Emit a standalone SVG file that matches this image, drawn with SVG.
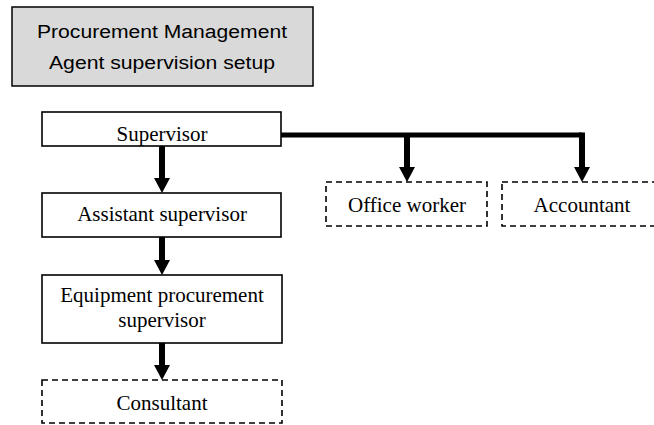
<svg xmlns="http://www.w3.org/2000/svg" xmlns:xlink="http://www.w3.org/1999/xlink" width="654" height="425" viewBox="0 0 654 425">
  <style>
    .title { fill: #d9d9d9; stroke: #000; stroke-width: 1.5; }
    .solid { fill: #fff; stroke: #000; stroke-width: 1.6; }
    .dashed { fill: #fff; stroke: #000; stroke-width: 1.6; stroke-dasharray: 6 4; }
    .sans { font-family: "Liberation Sans", Arial, sans-serif; font-size: 18px; fill: #000; text-anchor: middle; }
    .serif { font-family: "Liberation Serif", "Times New Roman", serif; font-size: 21px; fill: #000; text-anchor: middle; }
    .shaft { stroke: #000; stroke-width: 6; fill: none; }
    .bus { stroke: #000; stroke-width: 5; fill: none; }
  </style>
  <defs>
    <path id="ah" d="M-8,-15 L8,-15 L0,0 Z" fill="#000"/>
  </defs>
  <rect width="654" height="425" fill="#fff"/>

  <g id="title">
    <rect class="title" x="12" y="7" width="301" height="79"/>
    <text class="sans" x="162" y="38" textLength="250" lengthAdjust="spacingAndGlyphs">Procurement Management</text>
    <text class="sans" x="162" y="69" textLength="226" lengthAdjust="spacingAndGlyphs">Agent supervision setup</text>
  </g>

  <g id="connectors">
    <line class="shaft" x1="162" y1="146" x2="162" y2="179"/>
    <use xlink:href="#ah" x="162" y="193"/>
    <line class="shaft" x1="162" y1="237" x2="162" y2="261"/>
    <use xlink:href="#ah" x="162" y="275"/>
    <line class="shaft" x1="162" y1="343" x2="162" y2="365"/>
    <use xlink:href="#ah" x="162" y="380"/>
    <polyline class="bus" points="281,135 582,135"/>
    <line class="shaft" x1="407" y1="133" x2="407" y2="168"/>
    <use xlink:href="#ah" x="407" y="182"/>
    <line class="shaft" x1="582" y1="132.5" x2="582" y2="168"/>
    <use xlink:href="#ah" x="582" y="182"/>
  </g>

  <g id="supervisor">
    <rect class="solid" x="42" y="112" width="239" height="34"/>
    <text class="serif" x="162" y="141">Supervisor</text>
  </g>
  <g id="assistant">
    <rect class="solid" x="42" y="193" width="239" height="44"/>
    <text class="serif" x="162" y="221">Assistant supervisor</text>
  </g>
  <g id="equipment">
    <rect class="solid" x="42" y="275" width="240" height="68"/>
    <text class="serif" x="162" y="302">Equipment procurement</text>
    <text class="serif" x="162" y="327">supervisor</text>
  </g>
  <g id="consultant">
    <rect class="dashed" x="42" y="380" width="240" height="43"/>
    <text class="serif" x="162" y="410">Consultant</text>
  </g>
  <g id="office">
    <rect class="dashed" x="326" y="182" width="161" height="44"/>
    <text class="serif" x="407" y="212">Office worker</text>
  </g>
  <g id="accountant">
    <rect class="dashed" x="502" y="182" width="160" height="44"/>
    <text class="serif" x="582" y="212">Accountant</text>
  </g>
</svg>
